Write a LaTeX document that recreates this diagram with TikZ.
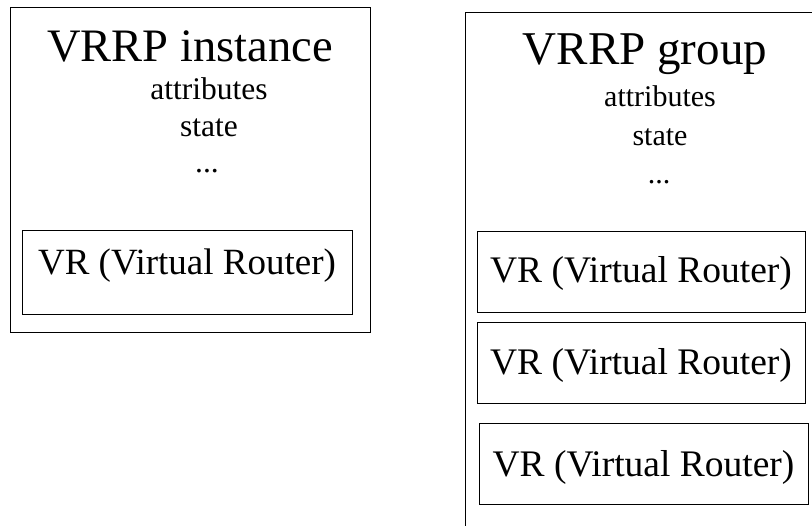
\documentclass[tikz,border=0pt]{standalone}
\usepackage{fontspec}
\setmainfont{Liberation Serif}
\begin{document}
\begin{tikzpicture}[x=1pt,y=-1pt,
  frame/.style={draw=black,line width=1.2pt,inner sep=0pt,anchor=north west},
  txt/.style={inner sep=0pt,anchor=base},
  title/.style={txt,font=\fontsize{#1}{#1}\selectfont}]
\useasboundingbox[fill=white] (0,0) rectangle (812,526);
\begin{scope}
\clip (0,0) rectangle (812,526);
% left: VRRP instance
\node[frame,minimum width=360pt,minimum height=325pt] (inst) at (10,7) {};
\node[title=46.5] (instT) at (190,62) {VRRP instance};
\node[title=31.5] (instA) at (209,100) {attributes};
\node[title=31.5] (instS) at (209,137) {state};
\node[title=31.5] (instD) at (207,173) {...};
\node[frame,minimum width=330pt,minimum height=84pt] (vr0) at (22,230) {};
\node[title=37] (vr0t) at (187,275) {VR (Virtual Router)};
% right: VRRP group
\node[frame,minimum width=360pt,minimum height=540pt] (grp) at (465,12) {};
\node[title=47] (grpT) at (645,65) {VRRP group};
\node[title=30] (grpA) at (660,107) {attributes};
\node[title=30] (grpS) at (660,146) {state};
\node[title=30] (grpD) at (659,184) {...};
\node[frame,minimum width=328pt,minimum height=81pt] (vr1) at (477,231) {};
\node[title=37.5] (vr1t) at (641,283) {VR (Virtual Router)};
\node[frame,minimum width=328pt,minimum height=81pt] (vr2) at (477,322) {};
\node[title=37.5] (vr2t) at (641,375) {VR (Virtual Router)};
\node[frame,minimum width=329pt,minimum height=81pt] (vr3) at (479,423) {};
\node[title=37.5] (vr3t) at (643.5,477) {VR (Virtual Router)};
\end{scope}
\end{tikzpicture}
\end{document}
